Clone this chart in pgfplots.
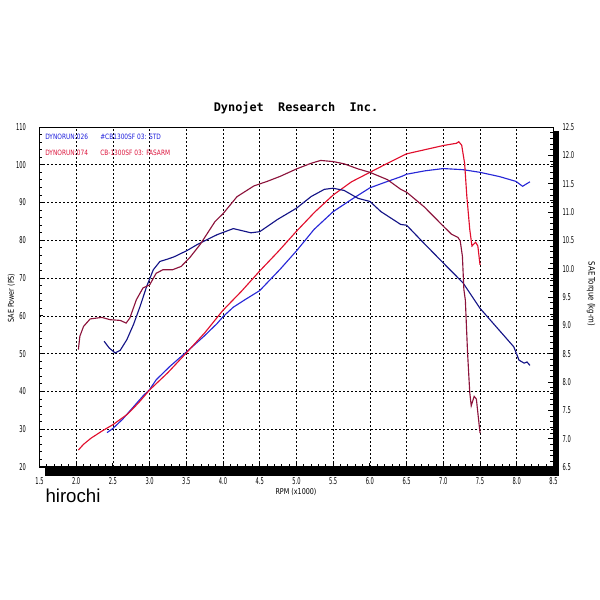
\documentclass[border=0pt]{standalone}
\usepackage{pgfplots}
\pgfplotsset{compat=1.18}
\usepackage{fontspec}
\setmainfont{DejaVu Sans}
\newfontfamily\ticfont[FakeStretch=0.55]{DejaVu Sans}
\newfontfamily\legfont[FakeStretch=0.8]{DejaVu Sans}
\newfontfamily\titlefont{DejaVu Sans Mono}
\newfontfamily\hfont{Liberation Sans}
\definecolor{pwrA}{RGB}{40,40,215}
\definecolor{trqA}{RGB}{20,20,135}
\definecolor{pwrB}{RGB}{225,15,45}
\definecolor{trqB}{RGB}{140,20,60}
\definecolor{legA}{RGB}{30,30,220}
\definecolor{legB}{RGB}{220,20,60}
\begin{document}
\begin{tikzpicture}
\useasboundingbox (0pt,0pt) rectangle (450pt,450pt);
% drop shadow of the frame
\fill[black] (33.75pt,93pt) rectangle (419pt,99.6pt);
\fill[black] (415.4pt,93pt) rectangle (419pt,352pt);
\begin{axis}[
  at={(29.6pt,99.75pt)}, anchor=south west,
  scale only axis, width=385.5pt, height=255pt,
  xmin=1.5, xmax=8.5, ymin=20, ymax=110,
  xtick={1.5,2,...,8.5}, ytick={20,30,...,110},
  minor x tick num=4, minor y tick num=4,
  xtick pos=left, ytick pos=left,
  tick align=inside, major tick length=3pt, minor tick length=2pt,
  tick style={black, line width=0.6pt},
  axis line style={line width=0.75pt},
  grid=major,
  major grid style={black, line width=0.45pt, dash pattern=on 1.5pt off 1.5pt},
  /pgf/number format/assume math mode=true,
  every tick label/.append style={font=\ticfont\fontsize{7}{7}\selectfont, inner sep=0pt},
  xticklabel style={/pgf/number format/.cd, fixed, fixed zerofill, precision=1, /tikz/.cd, anchor=north, yshift=-7.5pt},
  yticklabel style={anchor=east, xshift=-10pt},
]
% STD power
\addplot[pwrA, line width=0.85pt] coordinates {
(2.42,29.1)(2.50,30.2)(2.63,32.6)(2.77,35.7)(2.91,38.8)(3.00,40.5)(3.09,43.1)(3.28,46.7)
(3.51,50.6)(3.74,54.6)(3.92,58.0)(4.00,59.8)(4.14,62.3)(4.30,64.3)(4.50,66.7)(4.78,72.4)
(5.00,77.2)(5.24,82.9)(5.50,87.6)(5.74,90.7)(6.00,93.9)(6.24,95.6)(6.43,96.9)(6.50,97.5)
(6.75,98.4)(7.00,99.0)(7.27,98.7)(7.50,98.0)(7.76,96.9)(7.99,95.6)(8.08,94.3)(8.12,94.8)(8.18,95.5)};
% FASARM power
\addplot[pwrB, line width=0.85pt] coordinates {
(2.03,24.5)(2.10,26.0)(2.20,27.6)(2.35,29.5)(2.50,31.2)(2.70,34.0)(2.85,37.0)(3.00,40.4)
(3.25,45.0)(3.50,50.2)(3.75,55.5)(4.00,61.5)(4.25,66.5)(4.50,71.9)(4.75,77.0)(5.00,82.4)
(5.25,87.5)(5.50,92.0)(5.75,95.5)(6.00,98.0)(6.25,100.5)(6.50,102.9)(6.75,104.0)(7.00,105.1)
(7.18,105.7)(7.21,106.1)(7.25,105.2)(7.29,100.4)(7.32,91.7)(7.36,82.9)(7.39,78.5)(7.44,79.5)
(7.47,78.5)(7.50,73.5)};
\end{axis}
\begin{axis}[
  at={(29.6pt,99.75pt)}, anchor=south west,
  scale only axis, width=385.5pt, height=255pt,
  xmin=1.5, xmax=8.5, ymin=6.5, ymax=12.5,
  axis x line=none, axis y line*=right,
  ytick={6.5,7,...,12.5}, minor y tick num=4,
  tick align=inside, major tick length=4pt, minor tick length=2.5pt,
  tick style={black, line width=0.6pt},
  axis line style={line width=0.75pt},
  /pgf/number format/assume math mode=true,
  every tick label/.append style={font=\ticfont\fontsize{7}{7}\selectfont, inner sep=0pt},
  yticklabel style={/pgf/number format/.cd, fixed, fixed zerofill, precision=1, /tikz/.cd, anchor=west, xshift=6.75pt},
]
% STD torque
\addplot[trqA, line width=0.85pt] coordinates {
(2.38,8.720)(2.45,8.600)(2.53,8.513)(2.60,8.560)(2.69,8.747)(2.78,9.013)(2.87,9.333)(2.96,9.687)
(3.05,9.980)(3.14,10.127)(3.24,10.167)(3.33,10.207)(3.51,10.320)(3.65,10.427)(3.92,10.600)
(4.14,10.707)(4.38,10.633)(4.50,10.653)(4.74,10.867)(5.00,11.067)(5.20,11.273)(5.38,11.400)
(5.50,11.420)(5.65,11.380)(5.84,11.240)(6.00,11.187)(6.15,11.007)(6.42,10.780)(6.50,10.767)
(6.75,10.430)(7.00,10.100)(7.27,9.747)(7.50,9.300)(7.59,9.167)(7.96,8.620)(8.03,8.387)
(8.10,8.333)(8.14,8.353)(8.18,8.293)};
% FASARM torque
\addplot[trqB, line width=0.85pt] coordinates {
(2.03,8.573)(2.05,8.807)(2.10,8.980)(2.19,9.113)(2.35,9.140)(2.46,9.100)(2.60,9.087)(2.68,9.040)
(2.73,9.127)(2.82,9.453)(2.91,9.660)(3.00,9.713)(3.09,9.920)(3.18,9.980)(3.31,9.980)(3.43,10.040)
(3.55,10.200)(3.69,10.430)(3.89,10.830)(4.00,10.970)(4.19,11.270)(4.42,11.460)(4.60,11.540)
(4.78,11.630)(5.00,11.760)(5.20,11.860)(5.33,11.910)(5.50,11.890)(5.65,11.850)(5.84,11.760)
(6.00,11.700)(6.24,11.570)(6.42,11.400)(6.50,11.350)(6.74,11.090)(7.00,10.750)(7.11,10.610)
(7.20,10.550)(7.23,10.490)(7.26,10.220)(7.28,9.630)(7.30,9.447)(7.33,8.520)(7.36,7.813)
(7.38,7.580)(7.42,7.747)(7.45,7.700)(7.50,7.100)};
\end{axis}
% texts
\node[font=\titlefont\bfseries\fontsize{8.9}{9}\selectfont] at (222pt,369pt) {Dynojet\ \ Research\ \ Inc.};
\node[anchor=west, inner sep=0pt, text=legA, font=\legfont\fontsize{5.5}{6}\selectfont] at (33.75pt,347.2pt) {DYNORUN:026};
\node[anchor=west, inner sep=0pt, text=legA, font=\legfont\fontsize{5.5}{6}\selectfont] at (75pt,347.2pt) {\#CB1300SF 03: STD};
\node[anchor=west, inner sep=0pt, text=legB, font=\legfont\fontsize{5.5}{6}\selectfont] at (33.75pt,335.5pt) {DYNORUN:074};
\node[anchor=west, inner sep=0pt, text=legB, font=\legfont\fontsize{5.5}{6}\selectfont] at (75pt,335.5pt) {CB-1300SF 03: FASARM};
\node[font=\legfont\fontsize{6}{6}\selectfont, inner sep=0pt] at (222pt,81pt) {RPM (x1000)};
\node[font=\legfont\fontsize{6}{6}\selectfont, inner sep=0pt, rotate=90] at (8.5pt,226.5pt) {SAE Power (PS)};
\node[font=\legfont\fontsize{6.5}{6.5}\selectfont, inner sep=0pt, rotate=-90] at (443.2pt,229.5pt) {SAE Torque (kg-m)};
\node[font=\hfont\fontsize{14}{14}\selectfont, inner sep=0pt] at (54.75pt,78.5pt) {hirochi};
\end{tikzpicture}
\end{document}
